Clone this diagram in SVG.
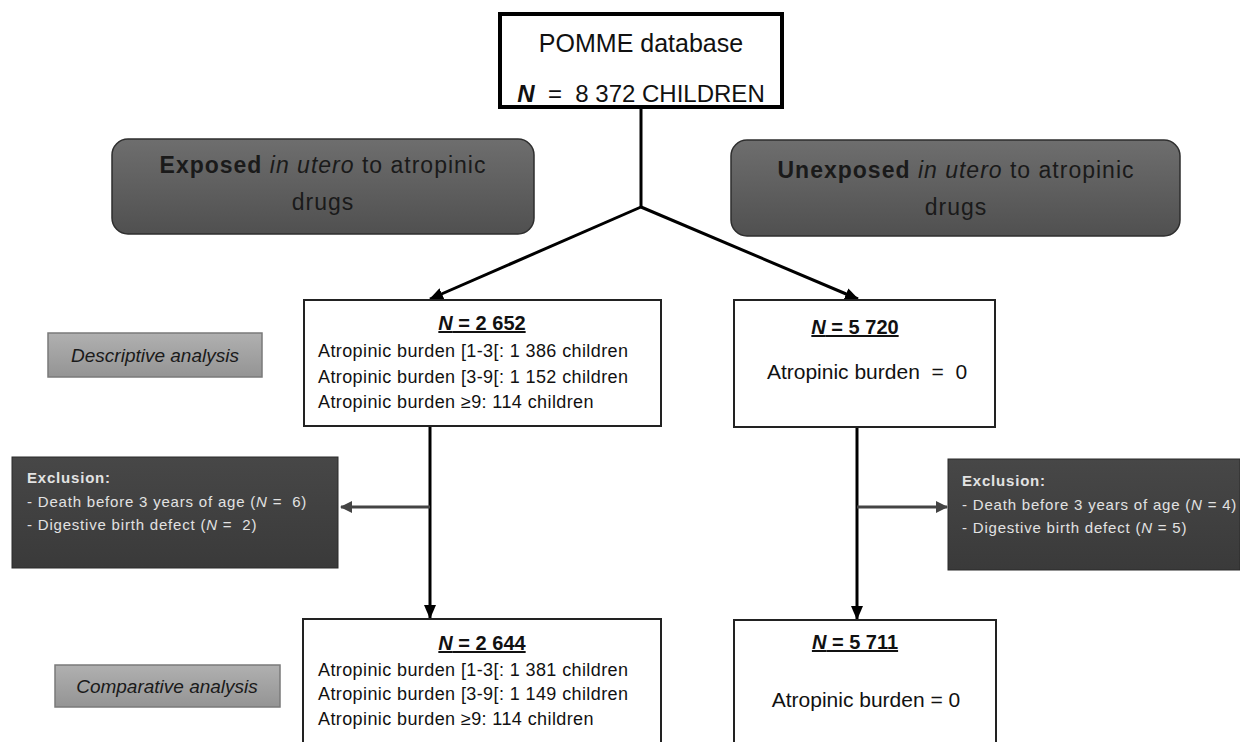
<svg xmlns="http://www.w3.org/2000/svg" width="1240" height="742" viewBox="0 0 1240 742">
  <defs>
    <linearGradient id="gDark" x1="0" y1="0" x2="0" y2="1">
      <stop offset="0" stop-color="#6e6e6e"/>
      <stop offset="1" stop-color="#505050"/>
    </linearGradient>
    <linearGradient id="gExcl" x1="0" y1="0" x2="0" y2="1">
      <stop offset="0" stop-color="#474747"/>
      <stop offset="1" stop-color="#3a3a3a"/>
    </linearGradient>
    <linearGradient id="gLight" x1="0" y1="0" x2="0" y2="1">
      <stop offset="0" stop-color="#b0b0b0"/>
      <stop offset="1" stop-color="#949494"/>
    </linearGradient>
    <marker id="ah" viewBox="0 0 14 12" refX="13" refY="6" markerWidth="14" markerHeight="12" markerUnits="userSpaceOnUse" orient="auto">
      <path d="M0,0 L14,6 L0,12 Z" fill="#000"/>
    </marker>
    <marker id="ahg" viewBox="0 0 12 12" refX="11" refY="6" markerWidth="12" markerHeight="12" markerUnits="userSpaceOnUse" orient="auto">
      <path d="M0,0 L12,6 L0,12 Z" fill="#444"/>
    </marker>
  </defs>
  <style>
    text { font-family: "Liberation Sans", Arial, sans-serif; fill: #111; }
    .box { fill: #fff; stroke: #222; stroke-width: 2; }
    .grp { fill: url(#gDark); stroke: #2e2e2e; stroke-width: 1.5; }
    .excl { fill: url(#gExcl); stroke: #2a2a2a; stroke-width: 1; }
    .ana { fill: url(#gLight); stroke: #7a7a7a; stroke-width: 1.5; }
    .grpt { font-size: 23px; letter-spacing: 1px; text-anchor: middle; fill: #1a1a1a; }
    .line { font-size: 18px; letter-spacing: 0.4px; }
    .nt { font-size: 20px; font-weight: bold; text-anchor: middle; text-decoration: underline; }
    .zero { font-size: 21px; text-anchor: middle; }
    .ex { font-size: 15px; letter-spacing: 0.8px; fill: #e2e2e2; }
    .anat { font-size: 19px; font-style: italic; text-anchor: middle; fill: #1a1a1a; }
    .conn { stroke: #000; stroke-width: 3; fill: none; }
    .connG { stroke: #444; stroke-width: 3; fill: none; }
  </style>

  <rect width="1240" height="742" fill="#fff"/>

  <g id="connectors">
    <path class="conn" d="M641,107 L641,207"/>
    <path class="conn" d="M641,207 L430,299" marker-end="url(#ah)"/>
    <path class="conn" d="M641,207 L858,299" marker-end="url(#ah)"/>
    <path class="conn" d="M430,426 L430,618" marker-end="url(#ah)"/>
    <path class="conn" d="M857,427 L857,619" marker-end="url(#ah)"/>
    <path class="connG" d="M430,507 L341,507" marker-end="url(#ahg)"/>
    <path class="connG" d="M857,507 L947,507" marker-end="url(#ahg)"/>
  </g>

  <g id="pomme">
    <rect x="500" y="14" width="282" height="93" fill="#fff" stroke="#000" stroke-width="4"/>
    <text x="641" y="52" font-size="25" text-anchor="middle">POMME database</text>
    <text x="641" y="102" font-size="24" text-anchor="middle"><tspan font-style="italic" font-weight="bold">N</tspan>&#160; =&#160; 8 372 CHILDREN</text>
  </g>

  <g id="exposed">
    <rect class="grp" x="112" y="139" width="422" height="95" rx="16"/>
    <text class="grpt" x="323" y="173"><tspan font-weight="bold">Exposed</tspan> <tspan font-style="italic">in utero</tspan> to atropinic</text>
    <text class="grpt" x="323" y="210">drugs</text>
  </g>

  <g id="unexposed">
    <rect class="grp" x="731" y="140" width="449" height="96" rx="16"/>
    <text class="grpt" x="956" y="178"><tspan font-weight="bold">Unexposed</tspan> <tspan font-style="italic">in utero</tspan> to atropinic</text>
    <text class="grpt" x="956" y="215">drugs</text>
  </g>

  <g id="descriptive">
    <rect class="ana" x="48" y="333" width="214" height="44"/>
    <text class="anat" x="155" y="362">Descriptive analysis</text>
  </g>

  <g id="exposed-2652">
    <rect class="box" x="304" y="300" width="357" height="126"/>
    <text class="nt" x="482" y="330"><tspan font-style="italic">N</tspan> = 2 652</text>
    <text class="line" x="318" y="357">Atropinic burden [1-3[: 1 386 children</text>
    <text class="line" x="318" y="383">Atropinic burden [3-9[: 1 152 children</text>
    <text class="line" x="318" y="408">Atropinic burden ≥9: 114 children</text>
  </g>

  <g id="unexposed-5720">
    <rect class="box" x="734" y="300" width="261" height="127"/>
    <text class="nt" x="855" y="334"><tspan font-style="italic">N</tspan> = 5 720</text>
    <text class="zero" x="867" y="379">Atropinic burden&#160; =&#160; 0</text>
  </g>

  <g id="exclusion-left">
    <rect class="excl" x="12" y="457" width="326" height="111"/>
    <text class="ex" x="27" y="483" font-weight="bold" letter-spacing="0.3">Exclusion:</text>
    <text class="ex" x="27" y="507">- Death before 3 years of age (<tspan font-style="italic">N</tspan> =&#160; 6)</text>
    <text class="ex" x="27" y="530">- Digestive birth defect (<tspan font-style="italic">N</tspan> =&#160; 2)</text>
  </g>

  <g id="exclusion-right">
    <rect class="excl" x="948" y="459" width="292" height="111"/>
    <text class="ex" x="962" y="486" font-weight="bold" letter-spacing="0.3">Exclusion:</text>
    <text class="ex" x="962" y="510">- Death before 3 years of age (<tspan font-style="italic">N</tspan> = 4)</text>
    <text class="ex" x="962" y="533">- Digestive birth defect (<tspan font-style="italic">N</tspan> = 5)</text>
  </g>

  <g id="comparative">
    <rect class="ana" x="55" y="665" width="225" height="42"/>
    <text class="anat" x="167" y="693">Comparative analysis</text>
  </g>

  <g id="exposed-2644">
    <rect class="box" x="303" y="619" width="358" height="130"/>
    <text class="nt" x="482" y="650"><tspan font-style="italic">N</tspan> = 2 644</text>
    <text class="line" x="318" y="676">Atropinic burden [1-3[: 1 381 children</text>
    <text class="line" x="318" y="700">Atropinic burden [3-9[: 1 149 children</text>
    <text class="line" x="318" y="725">Atropinic burden ≥9: 114 children</text>
  </g>

  <g id="unexposed-5711">
    <rect class="box" x="734" y="620" width="262" height="130"/>
    <text class="nt" x="855" y="649"><tspan font-style="italic">N</tspan> = 5 711</text>
    <text class="zero" x="866" y="707">Atropinic burden = 0</text>
  </g>
</svg>
